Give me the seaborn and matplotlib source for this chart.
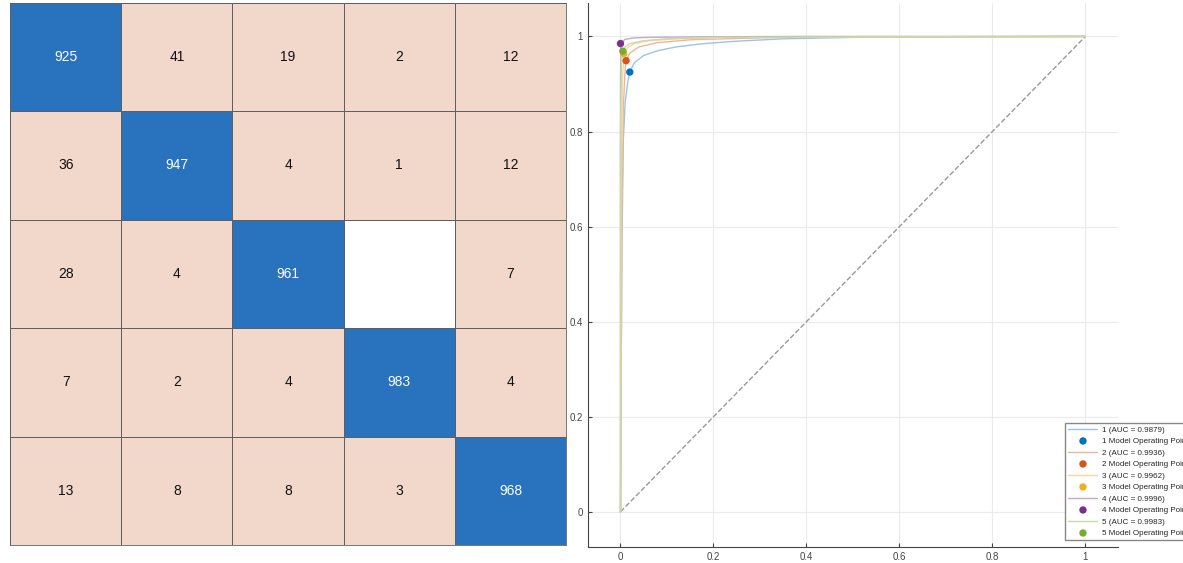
import numpy as np
import pandas as pd
import matplotlib
matplotlib.use("Agg")
import matplotlib.pyplot as plt
from matplotlib.colors import ListedColormap
from matplotlib.ticker import FormatStrFormatter
import seaborn as sns

# confusion matrix counts (0 = empty cell)
cm = [
    [925, 41, 19, 2, 12],
    [36, 947, 4, 1, 12],
    [28, 4, 961, 0, 7],
    [7, 2, 4, 983, 4],
    [13, 8, 8, 3, 968],
]

# ROC curves
fpr1 = [0, 0.003, 0.006, 0.01, 0.015, 0.02, 0.03, 0.05, 0.08, 0.12, 0.18, 0.25, 0.35, 0.5, 0.7, 1.0]
tpr1 = [0, 0.55, 0.78, 0.86, 0.9, 0.925, 0.945, 0.96, 0.97, 0.978, 0.985, 0.99, 0.995, 0.998, 0.999, 1.0]
fpr2 = [0, 0.003, 0.006, 0.01, 0.012, 0.02, 0.04, 0.08, 0.15, 0.3, 0.5, 1.0]
tpr2 = [0, 0.6, 0.85, 0.93, 0.949, 0.965, 0.978, 0.987, 0.993, 0.997, 0.999, 1.0]
fpr3 = [0, 0.002, 0.004, 0.007, 0.015, 0.03, 0.06, 0.12, 0.25, 0.5, 1.0]
tpr3 = [0, 0.7, 0.9, 0.964, 0.976, 0.985, 0.991, 0.995, 0.998, 0.999, 1.0]
fpr4 = [0, 0.0, 0.001, 0.005, 0.01, 0.03, 0.06, 0.15, 0.4, 1.0]
tpr4 = [0, 0.9, 0.985, 0.99, 0.994, 0.997, 0.998, 0.999, 1.0, 1.0]
fpr5 = [0, 0.0, 0.002, 0.005, 0.01, 0.02, 0.05, 0.1, 0.2, 0.5, 1.0]
tpr5 = [0, 0.8, 0.95, 0.969, 0.978, 0.985, 0.991, 0.995, 0.998, 0.999, 1.0]

class_names = ["1", "2", "3", "4", "5"]
auc_values = [0.9879, 0.9936, 0.9962, 0.9996, 0.9983]
op_fpr = [0.02, 0.012, 0.007, 0.0, 0.005]
op_tpr = [0.925, 0.949, 0.964, 0.985, 0.969]

colors = ["#0072BD", "#D95319", "#EDB120", "#7E2F8E", "#77AC30"]
line_colors = ["#9CC4E6", "#F0B49A", "#F5D99A", "#C8A6CF", "#C4DDA6"]

sns.set_style("white")
plt.rcParams['font.family'] = ['Liberation Sans', 'DejaVu Sans']

fig = plt.figure(figsize=(11.83, 5.63), dpi=100)

# ---- confusion matrix ----
ax1 = fig.add_axes([0.0085, 0.032, 0.470, 0.963])
arr = np.array(cm)
cat = np.where(arr == 0, 0, 1)
np.fill_diagonal(cat, 2)
labels = np.where(arr == 0, "", arr.astype(str))
cmap = ListedColormap(["#FFFFFF", "#F2D8CA", "#2872BE"])
sns.heatmap(cat, ax=ax1, cmap=cmap, vmin=-0.5, vmax=2.5, cbar=False,
            annot=labels, fmt="", linewidths=0.6, linecolor="#5f5f5f",
            annot_kws={"fontsize": 10})
for t in ax1.texts:
    cx, cy = t.get_position()
    r, c = int(cy), int(cx)
    t.set_color("white" if r == c else "#111111")
ax1.set_xticks([])
ax1.set_yticks([])
for s in ax1.spines.values():
    s.set_visible(True)
    s.set_color("#5f5f5f")
    s.set_linewidth(0.6)

# ---- ROC curves ----
ax2 = fig.add_axes([0.497, 0.0284, 0.448, 0.966])
ax2.plot([0, 1], [0, 1], ls="--", color="#999999", lw=1)
curves = [(fpr1, tpr1), (fpr2, tpr2), (fpr3, tpr3), (fpr4, tpr4), (fpr5, tpr5)]
for i, (fx, ty) in enumerate(curves):
    sns.lineplot(x=fx, y=ty, ax=ax2, color=line_colors[i], lw=1,
                 sort=False, estimator=None,
                 label=f"{class_names[i]} (AUC = {auc_values[i]:.4f})")
    sns.scatterplot(x=[op_fpr[i]], y=[op_tpr[i]], ax=ax2, color=colors[i],
                    s=28, edgecolor="none", zorder=5,
                    label=f"{class_names[i]} Model Operating Point")

ax2.set_xlim(-0.07, 1.07)
ax2.set_ylim(-0.074, 1.07)
ticks = [0, 0.2, 0.4, 0.6, 0.8, 1]
ax2.set_xticks(ticks)
ax2.set_yticks(ticks)
ax2.xaxis.set_major_formatter(FormatStrFormatter("%g"))
ax2.yaxis.set_major_formatter(FormatStrFormatter("%g"))
ax2.grid(True, color="#ebebeb", lw=0.8)
ax2.tick_params(direction="in", length=3, labelsize=7, colors="#444444",
                bottom=True, left=True)
for side in ["top", "right"]:
    ax2.spines[side].set_visible(False)
for side in ["left", "bottom"]:
    ax2.spines[side].set_color("#444444")
    ax2.spines[side].set_linewidth(0.8)

leg = ax2.legend(loc="upper left", bbox_to_anchor=(0.893, 0.236),
                 fontsize=5.8, frameon=True, fancybox=False,
                 edgecolor="#888888", framealpha=1, handlelength=3.6,
                 labelspacing=0.48, borderpad=0.4, handletextpad=0.5)

fig.savefig("out.png", dpi=100)
